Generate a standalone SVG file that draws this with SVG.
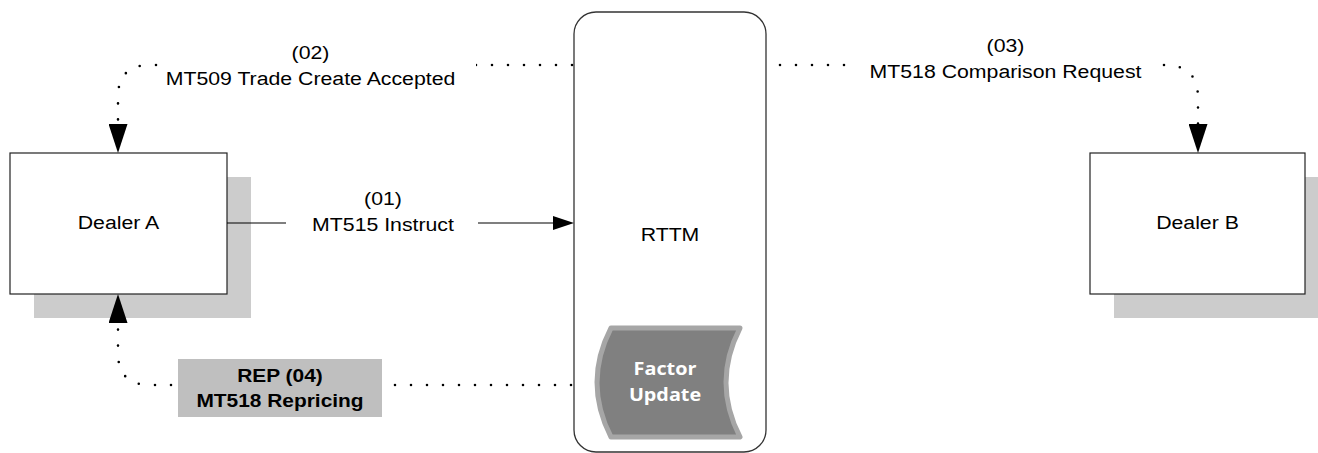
<svg xmlns="http://www.w3.org/2000/svg" width="1318" height="453" viewBox="0 0 1318 453">
<defs>
<style>
.box{fill:#ffffff;stroke:#222222;stroke-width:1.2}
.shadow{fill:#cccccc}
.lbl{font-family:"Liberation Sans",Arial,sans-serif;font-size:19px;fill:#000000;text-anchor:middle}
.bold{font-weight:bold}
.dot{fill:none;stroke:#000000;stroke-width:2.6;stroke-linecap:round;stroke-dasharray:0 16}
.solid{fill:none;stroke:#000000;stroke-width:1.2}
.bg{fill:#ffffff}
.fu{font-family:"Open Sans","Liberation Sans",sans-serif;font-size:18px;font-weight:bold;fill:#ffffff;text-anchor:middle}
</style>
<marker id="arrBig" markerUnits="userSpaceOnUse" viewBox="0 0 29 19" markerWidth="29" markerHeight="19" refX="0" refY="9.5" orient="auto">
<path d="M0,0 L29,9.5 L0,19 Z" fill="#000000"/>
</marker>
<marker id="arrSmall" markerUnits="userSpaceOnUse" viewBox="0 0 21 14" markerWidth="21" markerHeight="14" refX="0" refY="7" orient="auto">
<path d="M0,0 L21,7 L0,14 Z" fill="#000000"/>
</marker>
</defs>
<rect width="1318" height="453" fill="#ffffff"/>

<g id="dealerA">
<rect class="shadow" x="34" y="177" width="217" height="141"/>
<rect class="box" x="10" y="153" width="217" height="141"/>
<text class="lbl" transform="translate(118.5,229) scale(1.12,1)">Dealer A</text>
</g>

<g id="dealerB">
<rect class="shadow" x="1114" y="177" width="215" height="141"/>
<rect class="box" x="1090" y="153" width="215" height="141"/>
<text class="lbl" transform="translate(1197.5,229) scale(1.12,1)">Dealer B</text>
</g>

<g id="rttm">
<rect x="574" y="12" width="192" height="440" rx="22" ry="22" fill="#ffffff" stroke="#333333" stroke-width="1.3"/>
<text class="lbl" transform="translate(670,241) scale(1.12,1)">RTTM</text>
</g>

<g id="factorUpdate">
<path d="M611,328 L740,328 Q712,382.5 740,437 L611,437 Q583,382.5 611,328 Z" fill="#808080" stroke="#a6a6a6" stroke-width="5" stroke-linejoin="round"/>
<text class="fu" transform="translate(665,375) scale(1.1,1)">Factor</text>
<text class="fu" transform="translate(665,401) scale(1.1,1)">Update</text>
</g>

<g id="connectors">
<g id="c01">
<path class="solid" d="M227,223 H553" marker-end="url(#arrSmall)"/>
<rect class="bg" x="286" y="186" width="192" height="52"/>
<text class="lbl" transform="translate(383,205) scale(1.12,1)">(01)</text>
<text class="lbl" transform="translate(383,231) scale(1.12,1)">MT515 Instruct</text>
</g>
<g id="c02">
<path class="dot" d="M572,65 H150 Q118,65 118,97 V124" marker-end="url(#arrBig)"/>
<rect class="bg" x="158" y="38" width="318" height="54"/>
<text class="lbl" transform="translate(310.5,59) scale(1.12,1)">(02)</text>
<text class="lbl" transform="translate(310.5,85) scale(1.12,1)">MT509 Trade Create Accepted</text>
</g>
<g id="c03">
<path class="dot" d="M780,65 H1165 Q1198,65 1198,98 V124" marker-end="url(#arrBig)"/>
<rect class="bg" x="852" y="32" width="306" height="52"/>
<text class="lbl" transform="translate(1005.5,52) scale(1.12,1)">(03)</text>
<text class="lbl" transform="translate(1005.5,78) scale(1.12,1)">MT518 Comparison Request</text>
</g>
<g id="c04">
<path class="dot" d="M571,385 H150 Q118,385 118,353 V323" marker-end="url(#arrBig)"/>
<rect x="178" y="359" width="204" height="58" fill="#bfbfbf"/>
<text class="lbl bold" transform="translate(280,382) scale(1.1,1)">REP (04)</text>
<text class="lbl bold" transform="translate(280,407) scale(1.1,1)">MT518 Repricing</text>
</g>
</g>
</svg>
